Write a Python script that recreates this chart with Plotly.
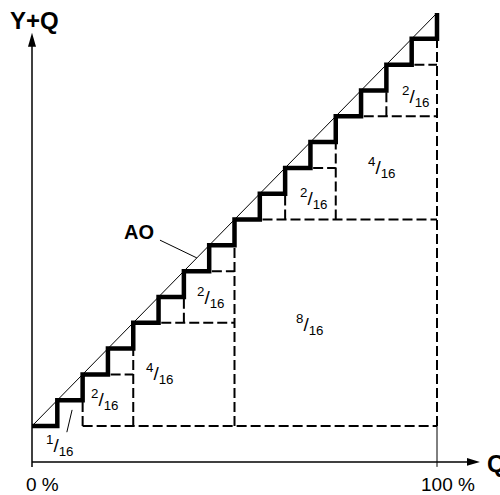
import plotly.graph_objects as go

# Ideal quantiser: 16 equal steps spanning 0..100 % of Q
full_scale = 16
step_index = [0, 1, 2, 3, 4, 5, 6, 7, 8, 9, 10, 11, 12, 13, 14, 15, 16]

# Dashed partition of the area under the staircase (in sixteenths)
h_dash_level = [0, 2, 4, 6, 8, 10, 12, 14]
h_dash_from = [2, 2, 4, 6, 8, 10, 12, 14]
h_dash_to = [16, 4, 8, 8, 16, 12, 16, 16]
v_dash_pos = [2, 4, 6, 8, 10, 12, 14, 16]
v_dash_from = [0, 0, 4, 0, 8, 8, 12, 0]
v_dash_to = [2, 4, 6, 8, 10, 12, 14, 15]

# Share of each region, as numerator / 16
region_numer = [1, 2, 4, 2, 8, 2, 4, 2]
region_denom = 16
# where each share label sits (percent of Q, percent of Y+Q)
region_lx = [6.9, 18.0, 31.6, 44.0, 68.6, 69.6, 86.2, 94.6]
region_ly = [-4.6, 6.5, 12.6, 31.0, 24.5, 55.2, 62.5, 79.9]

tick_values = [0, 100]
tick_labels = ["0 %", "100 %"]


def pct(i):
    return i * 100.0 / full_scale


FONT = "Liberation Sans, Arial, sans-serif"
BLACK = "#000000"

# axis geometry (data units)
AXIS_Y = -8.7
AXIS_LOW = -9.9
X_TIP = 110.6
Y_TIP = 95.2

fig = go.Figure()

# dashed region boundaries
dx, dy = [], []
for lv, a, b in zip(h_dash_level, h_dash_from, h_dash_to):
    dx += [pct(a), pct(b), None]
    dy += [pct(lv), pct(lv), None]
for p, a, b in zip(v_dash_pos, v_dash_from, v_dash_to):
    dx += [pct(p), pct(p), None]
    dy += [pct(a), pct(b), None]
fig.add_trace(go.Scatter(x=dx, y=dy, mode="lines",
                         line=dict(color=BLACK, width=2, dash="10px,4px"),
                         hoverinfo="skip"))

# axes
fig.add_trace(go.Scatter(x=[0, X_TIP - 2.5, None, 0, 0],
                         y=[AXIS_Y, AXIS_Y, None, AXIS_LOW, Y_TIP - 2.5],
                         mode="lines", line=dict(color=BLACK, width=1.5),
                         hoverinfo="skip"))
fig.add_trace(go.Scatter(x=[100, 100], y=[0, AXIS_LOW], mode="lines",
                         line=dict(color=BLACK, width=1), hoverinfo="skip"))

# ideal transfer line AO
fig.add_trace(go.Scatter(x=[pct(step_index[0]), pct(step_index[-1])],
                         y=[pct(step_index[0]), pct(step_index[-1])],
                         mode="lines", line=dict(color=BLACK, width=1),
                         hoverinfo="skip"))

# leader lines for "AO" and the 1/16 share
fig.add_trace(go.Scatter(x=[31.6, 40.7, None, 8.6, 9.9],
                         y=[45.0, 40.7, None, -1.5, 3.9],
                         mode="lines", line=dict(color=BLACK, width=1),
                         hoverinfo="skip"))

# quantised staircase
sx, sy = [], []
for k in step_index[:-1]:
    sx += [pct(k), pct(k + 1)]
    sy += [pct(k), pct(k)]
sx.append(pct(step_index[-1]))
sy.append(pct(step_index[-1]))
fig.add_trace(go.Scatter(x=sx, y=sy, mode="lines",
                         line=dict(color=BLACK, width=4.5),
                         hoverinfo="skip"))

shapes = [
    # x-axis arrowhead
    dict(type="path", xref="x", yref="y",
         path=f"M {X_TIP} {AXIS_Y} L {X_TIP - 3.2} {AXIS_Y + 0.95} L {X_TIP - 3.2} {AXIS_Y - 0.95} Z",
         fillcolor=BLACK, line=dict(width=0)),
    # y-axis arrowhead
    dict(type="path", xref="x", yref="y",
         path=f"M 0 {Y_TIP} L {-0.99} {Y_TIP - 3.4} L {0.99} {Y_TIP - 3.4} Z",
         fillcolor=BLACK, line=dict(width=0)),
]

annotations = [
    dict(x=0.62, y=98.3, text="<b>Y+Q</b>", font=dict(size=24)),
    dict(x=111.9, y=-9.0, text="<b>Q</b>", font=dict(size=24), xanchor="left"),
    dict(x=26.5, y=47.0, text="<b>AO</b>", font=dict(size=20)),
]
for tv, tl in zip(tick_values, tick_labels):
    annotations.append(dict(x=tv + 2.7, y=-14.1, text=tl, font=dict(size=19)))
for n, lx, ly in zip(region_numer, region_lx, region_ly):
    annotations.append(dict(x=lx, y=ly,
                            text=f"<sup>{n}</sup>/<sub>{region_denom}</sub>",
                            font=dict(size=19)))
for a in annotations:
    a.setdefault("xanchor", "center")
    a.update(xref="x", yref="y", showarrow=False, yanchor="middle")
    a["font"].update(family=FONT, color=BLACK)

# pixel mapping: 0 % -> (32, 426), 100 % -> (437, 13)
px_x, px_y = 4.05, 4.13
fig.update_layout(
    width=500, height=495,
    margin=dict(l=0, r=0, t=0, b=0),
    paper_bgcolor="white", plot_bgcolor="white",
    showlegend=False,
    xaxis=dict(range=[-32 / px_x, 468 / px_x], visible=False, fixedrange=True),
    yaxis=dict(range=[-69 / px_y, 426 / px_y], visible=False, fixedrange=True),
    shapes=shapes,
    annotations=annotations,
)

fig.write_html("out.html", config={"displayModeBar": False})
